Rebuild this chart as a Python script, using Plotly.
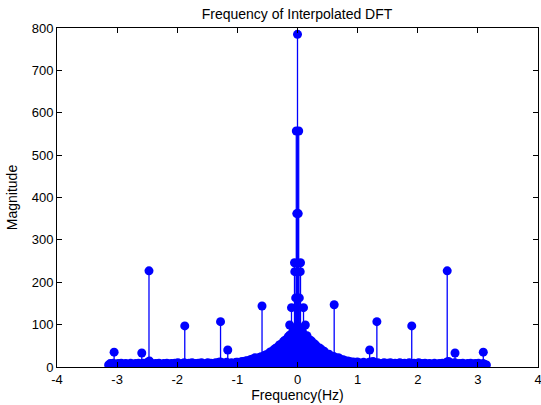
import numpy as np
import plotly.graph_objects as go

# Dense floor of the interpolated DFT magnitude, 241 bins spanning [-pi, pi]
floor_mag = [
    # -pi .. about -2.04
    5, 8, 3, 9, 6, 4, 8, 5, 9, 3,
    7, 8, 4, 6, 9, 5, 3, 8, 6, 9,
    4, 7, 9, 5, 8, 12, 14, 9, 4, 7,
    8, 3, 9, 6, 4, 8, 5, 9, 3, 7,
    8, 5,
    # about -2.04 .. -1.02
    9, 4, 10, 6, 3, 8, 10, 5, 7, 9,
    4, 10, 6, 8, 3, 9, 7, 10, 5, 4,
    8, 10, 6, 9, 3, 7, 10, 5, 11, 12,
    10, 6, 9, 11, 5, 8, 10, 4, 9, 11,
    # about -1.0 .. -0.63
    11, 7, 12, 13, 8, 14, 15, 10, 17, 18,
    14, 22, 20, 15, 23,
    # about -0.6 .. 0
    24, 20, 27, 29, 25, 33, 36, 31, 41, 44,
    40, 50, 53, 48, 60, 63, 59, 71, 75, 70,
    84, 88, 80,
    97,
    # 0 .. about 0.6
    82, 90, 86, 76, 72, 74, 62, 64, 61, 52,
    54, 50, 43, 45, 42, 35, 37, 32, 28, 30,
    26, 22, 25,
    # about 0.63 .. 1.0
    21, 16, 22, 19, 14, 17, 15, 11, 14, 13,
    9, 12, 11, 7, 12,
    # about 1.02 .. 2.04
    10, 6, 9, 11, 4, 8, 10, 12, 7, 13,
    9, 5, 10, 7, 3, 8, 10, 6, 9, 4,
    10, 7, 5, 9, 8, 3, 10, 6, 8, 9,
    4, 7, 10, 5, 8, 9, 3, 6, 10, 7,
    # about 2.04 .. pi
    8, 5, 9, 3, 7, 8, 4, 6, 9, 5,
    3, 8, 6, 9, 4, 7, 12, 13, 8, 5,
    9, 10, 4, 7, 8, 3, 9, 6, 4, 8,
    5, 9, 3, 7, 8, 4, 9, 6, 3, 8,
    6, 5,
]
floor_freq = np.linspace(-np.pi, np.pi, len(floor_mag))

# Isolated spectral peaks away from DC
peak_freq = [-3.05, -2.59, -2.47, -1.875, -1.28, -1.16, -0.59,
             0.61, 1.20, 1.32, 1.90, 2.49, 2.62, 3.09]
peak_mag = [35, 33, 227, 97, 107, 40, 144,
            147, 40, 107, 97, 227, 33, 35]

# Main lobe around 0 Hz
center_freq = [-0.13, -0.10, -0.05, -0.045, -0.03, -0.02, -0.012, 0.0,
               0.012, 0.02, 0.03, 0.045, 0.05, 0.10, 0.13]
center_mag = [99, 140, 246, 225, 163, 557, 362, 785,
              362, 557, 163, 225, 246, 140, 99]

x_ticks = [-4, -3, -2, -1, 0, 1, 2, 3, 4]
y_ticks = [0, 100, 200, 300, 400, 500, 600, 700, 800]


def stems(fs, ms):
    """Vertical segments from the zero line up to each magnitude."""
    sx, sy = [], []
    for f, m in zip(fs, ms):
        sx += [f, f, None]
        sy += [0, m, None]
    return sx, sy


blue = "#0000FF"
font = "Liberation Sans, Arial, sans-serif"

fig = go.Figure()
# closely packed floor bins: their stems merge into a solid band
fx, fy = stems(floor_freq, floor_mag)
fig.add_trace(go.Scatter(x=fx, y=fy, mode="lines",
                         line=dict(color=blue, width=2.6),
                         hoverinfo="skip", showlegend=False))
px_, py_ = stems(peak_freq + center_freq, peak_mag + center_mag)
fig.add_trace(go.Scatter(x=px_, y=py_, mode="lines",
                         line=dict(color=blue, width=1.3),
                         hoverinfo="skip", showlegend=False))
all_f = list(floor_freq) + peak_freq + center_freq
all_m = list(floor_mag) + peak_mag + center_mag
fig.add_trace(go.Scatter(x=all_f, y=all_m, mode="markers",
                         marker=dict(color=blue, size=9, line=dict(width=0)),
                         showlegend=False))

axis_common = dict(
    showline=True, linecolor="black", linewidth=1, mirror="allticks",
    ticks="inside", ticklen=5, tickcolor="black", tickwidth=1,
    showgrid=False, zeroline=False, ticklabeloverflow="allow",
    automargin=False,
    tickfont=dict(family=font, size=13, color="black"),
)

fig.update_layout(
    width=541, height=405,
    margin=dict(l=57, r=3, t=28, b=38),
    paper_bgcolor="white", plot_bgcolor="white",
    title=dict(text="Frequency of Interpolated DFT", x=0.549, xanchor="center",
               y=1 - 14 / 405, yanchor="middle", yref="container",
               font=dict(family=font, size=14, color="black")),
    xaxis=dict(range=[-4, 4], tickvals=x_ticks, ticktext=[str(v) for v in x_ticks],
               title=dict(text="Frequency(Hz)", standoff=4,
                          font=dict(family=font, size=14, color="black")),
               **axis_common),
    yaxis=dict(range=[0, 800], tickvals=y_ticks, ticktext=[str(v) for v in y_ticks],
               title=dict(text="Magnitude", standoff=10,
                          font=dict(family=font, size=14, color="black")),
               **axis_common),
)

fig.write_html("out.html")
